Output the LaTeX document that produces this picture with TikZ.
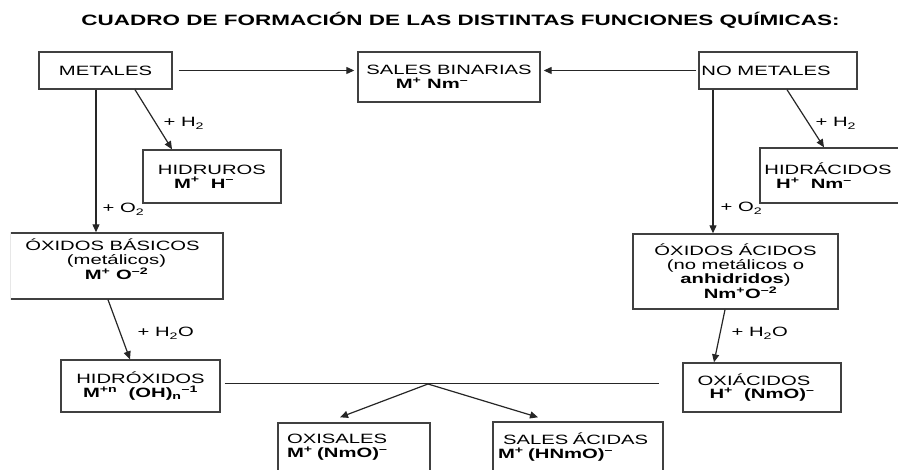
\documentclass[tikz,border=0pt]{standalone}
\usepackage{fontspec}
\setmainfont{Liberation Sans}[FakeStretch=1.5]
\usetikzlibrary{arrows.meta}

\tikzset{
  caja/.style={draw=black!75, line width=1.4pt, inner sep=0pt, align=center, font=\fontsize{13.5}{13.9}\selectfont},
  etiq/.style={inner sep=0pt, anchor=base west, font=\fontsize{13.5}{13.9}\selectfont},
}

\begin{document}
\begin{tikzpicture}[x=1pt,y=-1pt,>={Triangle[length=8pt,width=7pt]},line width=1.2pt,draw=black!85]
\useasboundingbox (0,0) rectangle (898,470);
\clip (10.8,0) rectangle (898,470);
% titulo
\node[inner sep=0pt, anchor=base, font=\bfseries\fontsize{15}{17}\selectfont] (titulo) at (460.5,26) {CUADRO DE FORMACIÓN DE LAS DISTINTAS FUNCIONES QUÍMICAS:};
% cajas
\node[caja, minimum width=133pt, minimum height=37pt] (metales) at (105.5,70.5) {METALES};
\node[caja, minimum width=182pt, minimum height=50pt] (sbin) at (449,77) {SALES BINARIAS\\ \textbf{M\textsuperscript{+} Nm\textsuperscript{--}}\hspace*{34pt}};
\node[caja, minimum width=158pt, minimum height=37pt] (nomet) at (778,70.5) {NO METALES\hspace*{24pt}};
\node[caja, minimum width=138pt, minimum height=53pt] (hidruros) at (212,176.5) {HIDRUROS\\ \textbf{M\textsuperscript{+}\ \ H\textsuperscript{--}}\hspace*{16pt}};
\node[caja, minimum width=140pt, minimum height=55pt] (hidracidos) at (830,175.5) {HIDRÁCIDOS\hspace*{4pt}\\ \textbf{H\textsuperscript{+}\ \ Nm\textsuperscript{--}}\hspace*{32pt}};
\node[caja, minimum width=213pt, minimum height=66pt] (obas) at (116.5,266) {ÓXIDOS BÁSICOS\hspace*{8pt}\\ (metálicos)\hspace*{11pt}\\ \textbf{M\textsuperscript{+} O\textsuperscript{--2}}\\ \mbox{}};
\node[caja, minimum width=205pt, minimum height=75pt] (oacid) at (735.5,271.5) {ÓXIDOS ÁCIDOS\\ (no metálicos o\\ \textbf{anhidridos})\\ \hspace*{10pt}\textbf{Nm\textsuperscript{+}O\textsuperscript{--2}}};
\node[caja, minimum width=159pt, minimum height=52pt] (hidrox) at (140.5,386) {HIDRÓXIDOS\\ \textbf{M\textsuperscript{+n}\ \ (OH)\textsubscript{n}\textsuperscript{--1}}};
\node[caja, minimum width=158pt, minimum height=49pt] (oxiac) at (762,387.5) {OXIÁCIDOS\hspace*{16pt}\\ \textbf{H\textsuperscript{+}\ \ (NmO)\textsuperscript{--}}};
\node[caja, align=left, inner xsep=9pt, text width=134pt, minimum height=49pt] (oxisal) at (354,447.5) {OXISALES\\ \textbf{M\textsuperscript{+} (NmO)\textsuperscript{--}}};
\node[caja, align=left, inner xsep=5pt, text width=160pt, minimum height=50pt] (sacid) at (578,447) {\hspace*{5pt}SALES ÁCIDAS\\ \textbf{M\textsuperscript{+} (HNmO)\textsuperscript{--}}};
% flechas
\draw[->] ([xshift=6pt]metales.east) -- ([xshift=-3pt]metales.east -| sbin.west);
\draw[->] ([xshift=-2pt]nomet.west) -- ([xshift=3pt]nomet.west -| sbin.east);
\draw[->] ([xshift=29.5pt]metales.south) -- ([xshift=-40pt]hidruros.north);
\draw[->] ([xshift=-9.5pt]metales.south) -- ([xshift=-9.5pt]metales.south |- obas.north);
\draw[->] ([xshift=9pt]nomet.south) -- ([xshift=-6pt]hidracidos.north);
\draw[->] ([xshift=-65pt]nomet.south) -- ([xshift=-65pt]nomet.south |- oacid.north);
\draw[->] ([xshift=-8.5pt]obas.south) -- ([xshift=-10.5pt]hidrox.north);
\draw[->] ([xshift=-10.5pt]oacid.south) -- ([xshift=-48pt]oxiac.north);
\coordinate (vertice) at (428,384);
\draw[line width=1pt] ([xshift=4pt]hidrox.east |- vertice) -- ([xshift=-23pt]oxiac.west |- vertice);
\draw[->] (vertice) -- ([xshift=-14pt,yshift=5pt]oxisal.north);
\draw[->] (vertice) -- ([xshift=-40pt,yshift=4pt]sacid.north);
% etiquetas
\node[etiq] (h2met) at (163,127) {+ H\textsubscript{2}};
\node[etiq] (o2met) at (102,213) {+ O\textsubscript{2}};
\node[etiq] (h2nom) at (815,127) {+ H\textsubscript{2}};
\node[etiq] (o2nom) at (720,212) {+ O\textsubscript{2}};
\node[etiq] (aguamet) at (137,337) {+ H\textsubscript{2}O};
\node[etiq] (aguanom) at (731,337) {+ H\textsubscript{2}O};
\end{tikzpicture}
\end{document}
